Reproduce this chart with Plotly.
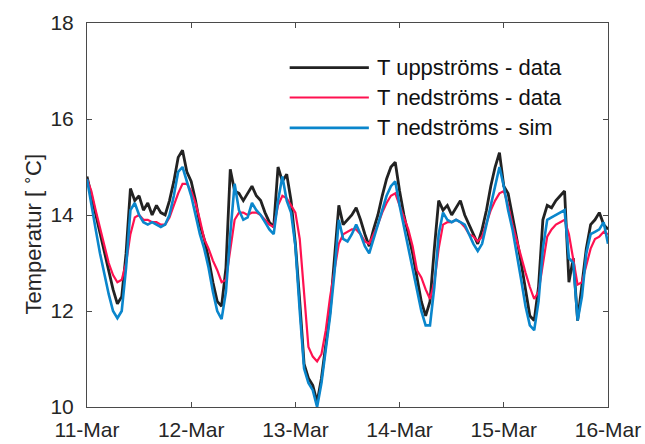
import pandas as pd
import plotly.graph_objects as go

# Hourly temperatures (deg C), 11-Mar 00:00 to 16-Mar 00:00
upstream_data = (
    [14.8, 14.4, 14.0, 13.6, 13.2, 12.8, 12.45, 12.15, 12.3, 13.2, 14.55, 14.3,
     14.4, 14.1, 14.25, 14.0, 14.2, 14.05, 14.0, 14.3, 14.7, 15.2, 15.35, 14.9, 14.7]
    + [14.3, 13.8, 13.5, 13.1, 12.6, 12.2, 12.1, 12.9, 14.95, 14.5, 14.45, 14.3,
       14.45, 14.6, 14.4, 14.3, 14.05, 13.85, 13.75, 15.0, 14.7, 14.85, 14.3, 13.4]
    + [12.2, 10.9, 10.6, 10.45, 10.1, 10.6, 11.3, 12.0, 13.1, 14.2, 13.8, 13.9,
       14.0, 14.15, 13.9, 13.6, 13.35, 13.7, 14.0, 14.4, 14.75, 15.0, 15.1, 14.5]
    + [14.0, 13.6, 13.2, 12.7, 12.2, 11.9, 12.2, 13.3, 14.3, 14.1, 14.2, 14.0,
       14.15, 14.3, 14.0, 13.8, 13.6, 13.4, 13.7, 14.1, 14.6, 15.0, 15.3, 14.6]
    + [14.45, 14.0, 13.5, 13.0, 12.4, 11.9, 11.8, 12.5, 13.9, 14.2, 14.15, 14.3,
       14.4, 14.5, 12.6, 13.1, 11.8, 12.5, 13.3, 13.8, 13.9, 14.05, 13.8, 13.7]
)

downstream_data = (
    [14.75, 14.5, 14.1, 13.75, 13.35, 13.0, 12.75, 12.6, 12.65, 13.0, 13.6, 13.95,
     14.0, 13.9, 13.9, 13.85, 13.85, 13.8, 13.8, 13.95, 14.2, 14.45, 14.65, 14.65, 14.5]
    + [14.25, 13.9, 13.5, 13.3, 13.05, 12.85, 12.6, 12.65, 13.3, 13.9, 14.05, 14.05,
       14.0, 14.05, 14.05, 14.0, 13.9, 13.8, 13.75, 14.2, 14.4, 14.35, 14.2, 14.05]
    + [13.5, 12.3, 11.25, 11.05, 10.95, 11.1, 11.6, 12.3, 12.9, 13.4, 13.6, 13.65,
       13.7, 13.7, 13.6, 13.45, 13.4, 13.6, 13.8, 14.05, 14.25, 14.4, 14.45, 14.2]
    + [13.95, 13.7, 13.35, 12.85, 12.7, 12.45, 12.25, 12.6, 13.3, 13.8, 13.85, 13.85,
       13.9, 13.85, 13.75, 13.6, 13.55, 13.45, 13.55, 13.85, 14.1, 14.3, 14.45, 14.5]
    + [14.2, 13.8, 13.45, 13.1, 12.8, 12.5, 12.25, 12.4, 13.0, 13.55, 13.7, 13.8,
       13.85, 13.9, 13.6, 13.1, 12.55, 12.6, 12.95, 13.3, 13.5, 13.55, 13.65, 13.6]
)

downstream_sim = (
    [14.75, 14.2, 13.7, 13.2, 12.75, 12.35, 12.0, 11.85, 12.0, 12.9, 14.1, 14.25,
     14.0, 13.85, 13.8, 13.85, 13.8, 13.75, 13.8, 14.0, 14.4, 14.9, 15.0, 14.7, 14.4]
    + [14.0, 13.6, 13.3, 12.9, 12.4, 12.0, 11.83, 12.4, 13.6, 14.65, 14.1, 13.9,
       13.95, 14.25, 14.1, 14.0, 13.85, 13.7, 13.6, 14.3, 14.8, 14.3, 14.05, 13.35]
    + [12.0, 10.8, 10.5, 10.35, 10.0, 10.5, 11.2, 11.9, 12.8, 13.9, 13.5, 13.45,
       13.6, 13.8, 13.6, 13.35, 13.2, 13.5, 13.8, 14.1, 14.4, 14.6, 14.7, 14.2]
    + [13.75, 13.3, 12.9, 12.45, 12.0, 11.7, 11.7, 12.5, 13.6, 14.05, 13.9, 13.85,
       13.9, 13.85, 13.8, 13.6, 13.4, 13.25, 13.4, 13.8, 14.2, 14.6, 15.0, 14.6]
    + [14.1, 13.7, 13.2, 12.65, 12.1, 11.7, 11.6, 12.2, 13.3, 13.9, 13.95, 14.0,
       14.05, 14.1, 13.1, 13.0, 11.8, 12.3, 13.2, 13.6, 13.65, 13.7, 13.85, 13.4]
)

series_names = ["T uppströms - data", "T nedströms - data", "T nedströms - sim"]
series_colors = ["#222222", "#FF1150", "#0A86CC"]
series_widths = [2.8, 2.2, 2.6]

date_ticks = ["2017-03-11", "2017-03-12", "2017-03-13", "2017-03-14",
              "2017-03-15", "2017-03-16"]
y_ticks = [10, 12, 14, 16, 18]

times = pd.date_range("2017-03-11 00:00", periods=len(upstream_data), freq="h")

FONT = "Liberation Sans, Arial, sans-serif"
AXIS_COLOR = "#4a4a4a"

fig = go.Figure()
for name, vals, col, w in zip(series_names,
                              [upstream_data, downstream_data, downstream_sim],
                              series_colors, series_widths):
    fig.add_trace(go.Scatter(x=times, y=vals, mode="lines", name=name,
                             line=dict(color=col, width=w), showlegend=False))

# Legend drawn as line samples plus labels (paper coordinates)
leg_x0, leg_x1, leg_text_x = 0.389, 0.541, 0.553
leg_rows = [0.884, 0.806, 0.727]
for name, col, w, yy in zip(series_names, series_colors, series_widths, leg_rows):
    fig.add_shape(type="line", xref="paper", yref="paper",
                  x0=leg_x0, x1=leg_x1, y0=yy, y1=yy,
                  line=dict(color=col, width=w))
    fig.add_annotation(xref="paper", yref="paper", x=leg_text_x, y=yy,
                       text=name, showarrow=False, xanchor="left", yanchor="middle",
                       font=dict(family=FONT, size=22, color="#111111"))

# y-axis title
fig.add_annotation(xref="paper", yref="paper", x=-0.105, y=0.45,
                   text="Temperatur [ <sup>∘</sup>C]", textangle=-90,
                   showarrow=False, xanchor="center", yanchor="middle",
                   font=dict(family=FONT, size=22, color="#262626"))

fig.update_layout(
    width=645, height=444,
    margin=dict(l=87, r=37, t=23, b=37),
    paper_bgcolor="white", plot_bgcolor="white",
    font=dict(family=FONT, size=21, color="#262626"),
    showlegend=False,
)
fig.update_xaxes(
    range=[date_ticks[0], date_ticks[-1]],
    tickvals=date_ticks, tickformat="%d-%b", automargin=False,
    showgrid=False, zeroline=False,
    showline=True, mirror="ticks", linecolor=AXIS_COLOR, linewidth=1,
    ticks="inside", ticklen=5, tickcolor=AXIS_COLOR,
    tickfont=dict(family=FONT, size=21, color="#262626"),
    ticklabelstandoff=4,
)
fig.update_yaxes(
    range=[10, 18], tickvals=y_ticks, automargin=False,
    showgrid=False, zeroline=False,
    showline=True, mirror="ticks", linecolor=AXIS_COLOR, linewidth=1,
    ticks="inside", ticklen=5, tickcolor=AXIS_COLOR,
    tickfont=dict(family=FONT, size=21, color="#262626"),
    ticklabelstandoff=8,
)

fig.write_html("out.html")
